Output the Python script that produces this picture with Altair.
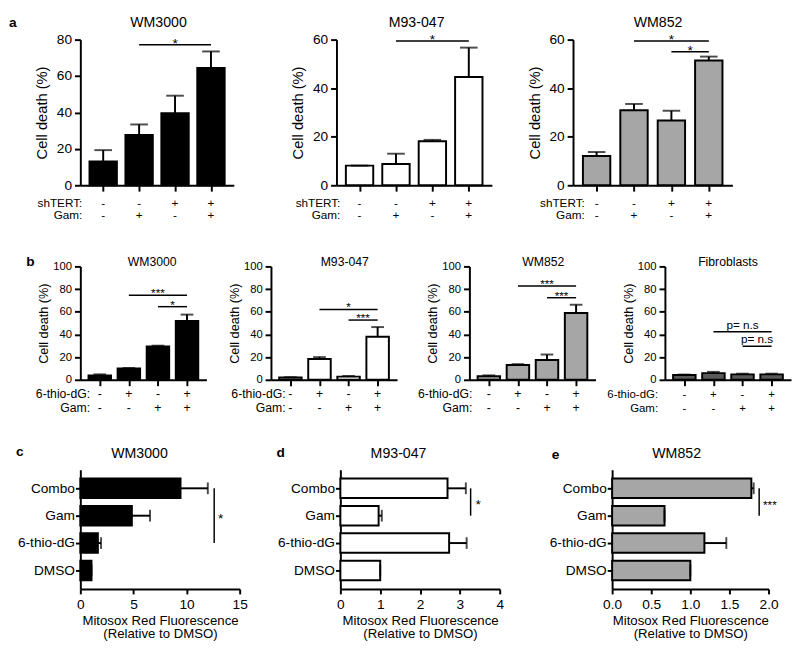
import json
import altair as alt
import pandas as pd

FONT = "Liberation Sans, Arial, Helvetica, sans-serif"

# ---------------- data ----------------
# panel a : shTERT / Gam
A_SHTERT = ["-", "-", "+", "+"]
A_GAM = ["-", "+", "-", "+"]
A_WM3000_MEAN = [13.1, 27.6, 39.6, 64.4]
A_WM3000_SEM = [6.2, 5.8, 9.6, 9.1]
A_M93_MEAN = [8.1, 8.8, 18.1, 44.6]
A_M93_SEM = [0.0, 4.2, 0.6, 12.1]
A_WM852_MEAN = [12.1, 30.9, 26.7, 51.4]
A_WM852_SEM = [1.6, 2.6, 4.0, 1.6]
A_WM3000_SIG = [[2, 4, 77.2, "*"]]
A_M93_SIG = [[2, 4, 59.4, "*"]]
A_WM852_SIG = [[2, 4, 59.4, "*"], [3, 4, 55.0, "*"]]

# panel b : 6-thio-dG / Gam
B_THIO = ["-", "+", "-", "+"]
B_GAM = ["-", "-", "+", "+"]
B_WM3000_MEAN = [3.9, 9.9, 29.3, 51.8]
B_WM3000_SEM = [0.9, 0.5, 0.8, 5.7]
B_M93_MEAN = [2.0, 18.3, 2.8, 38.0]
B_M93_SEM = [0.3, 1.7, 0.6, 8.5]
B_WM852_MEAN = [3.1, 13.0, 17.5, 58.9]
B_WM852_SEM = [0.8, 0.8, 4.8, 7.3]
B_FIB_MEAN = [4.2, 5.9, 4.8, 4.8]
B_FIB_SEM = [0.4, 1.1, 0.6, 0.6]
B_WM3000_SIG = [[2, 4, 74.6, "***"], [3, 4, 64.5, "*"]]
B_M93_SIG = [[2, 4, 62.0, "*"], [3, 4, 52.7, "***"]]
B_WM852_SIG = [[2, 4, 82.8, "***"], [3, 4, 72.4, "***"]]
B_FIB_SIG = [[2, 4, 42.3, "p= n.s"], [3, 4, 29.6, "p= n.s"]]

# panels c, d, e : Mitosox
C_CATS = ["Combo", "Gam", "6-thio-dG", "DMSO"]
C_WM3000_MEAN = [9.43, 4.85, 1.65, 1.05]
C_WM3000_SEM = [2.57, 1.71, 0.30, 0.0]
D_M93_MEAN = [2.69, 0.96, 2.73, 1.0]
D_M93_SEM = [0.46, 0.08, 0.44, 0.0]
E_WM852_MEAN = [1.78, 0.67, 1.18, 1.0]
E_WM852_SEM = [0.03, 0.0, 0.28, 0.0]
C_WM3000_SIG = [["Combo", "6-thio-dG", 12.6, "*"]]
D_M93_SIG = [["Combo", "Gam", 3.27, "*"]]
E_WM852_SIG = [["Combo", "Gam", 1.88, "***"]]

BLACK_FILL = "#000000"
WHITE_FILL = "#ffffff"
GRAY_FILL = "#a6a6a6"
DARK_FILL = "#595959"


def one(**kw):
    return pd.DataFrame({k: [v] for k, v in kw.items()})


def frame_layer(w, h, box):
    """Invisible rectangle that fixes the panel's bounding box (left, right, top, bottom)."""
    L, R, T, B = box
    return alt.Chart(one(z=0)).mark_rect(fill="white", opacity=0).encode(
        x=alt.value(-L), x2=alt.value(w + R), y=alt.value(-T), y2=alt.value(h + B))


def text_layer(txt, x, y, size, bold=False, align="center", baseline="middle"):
    return alt.Chart(one(t=txt)).mark_text(
        font=FONT, fontSize=size, fontWeight="bold" if bold else "normal",
        color="black", align=align, baseline=baseline
    ).encode(x=alt.value(x), y=alt.value(y), text="t:N")


def vpanel(title, mean, sem, fill, sig, row_names, rows, ymax, yticks, w, h, st):
    n = len(mean)
    pos = list(range(1, n + 1))
    df = pd.DataFrame({"pos": pos, "mean": mean,
                       "top": [m + s for m, s in zip(mean, sem)]})
    xs = alt.Scale(domain=[0.5, n + 0.5], nice=False, zero=False)
    xa = alt.Axis(values=pos, labels=False, title=None, tickSize=6, tickWidth=2,
                  domainWidth=2, grid=False)
    ys = alt.Scale(domain=[0, ymax], nice=False)
    ya = alt.Axis(values=yticks, title="Cell death (%)", labelFontSize=st["tick"],
                  titleFontSize=st["ytitle"], tickSize=6, tickWidth=2, domainWidth=2,
                  labelPadding=3, titlePadding=st["tpad"], grid=False)
    X = alt.X("pos:Q", scale=xs, axis=xa)
    err = alt.Chart(df).mark_rule(color="black", strokeWidth=2).encode(
        x=X, y=alt.Y("mean:Q", scale=ys, axis=ya), y2="top:Q")
    bars = alt.Chart(df).mark_bar(orient="vertical", size=st["bar"], fill=fill,
                                  stroke="black", strokeWidth=2).encode(
        x=X, y=alt.Y("mean:Q", scale=ys, axis=ya))
    cap = alt.Chart(df).mark_tick(orient="horizontal", size=st["cap"], thickness=2,
                                  color="black").encode(
        x=X, y=alt.Y("top:Q", scale=ys, axis=ya))
    sdf = pd.DataFrame(sig, columns=["x1", "x2", "y", "label"])
    sdf["xm"] = (sdf["x1"] + sdf["x2"]) / 2
    srule = alt.Chart(sdf).mark_rule(color="black", strokeWidth=1.5).encode(
        x=alt.X("x1:Q", scale=xs, axis=xa), x2="x2:Q",
        y=alt.Y("y:Q", scale=ys, axis=ya))
    stext = alt.Chart(sdf).mark_text(font=FONT, fontSize=st["sig"], color="black",
                                     baseline="alphabetic", dy=st["sigdy"]).encode(
        x=alt.X("xm:Q", scale=xs, axis=xa), y=alt.Y("y:Q", scale=ys, axis=ya),
        text="label:N")
    rdf = pd.DataFrame({"pos": pos, "r1": rows[0], "r2": rows[1]})
    r1 = alt.Chart(rdf).mark_text(font=FONT, fontSize=st["row"], color="black").encode(
        x=X, y=alt.value(h + st["r1y"]), text="r1:N")
    r2 = alt.Chart(rdf).mark_text(font=FONT, fontSize=st["row"], color="black").encode(
        x=X, y=alt.value(h + st["r2y"]), text="r2:N")
    n1 = text_layer(row_names[0], st["rnx"], h + st["r1y"], st["rowname"], align="right")
    n2 = text_layer(row_names[1], st["rnx"], h + st["r2y"], st["rowname"], align="right")
    ttl = text_layer(title, w / 2 + st["tdx"], st["ty"], st["title"], baseline="alphabetic")
    layers = [frame_layer(w, h, st["box"]), err, bars, cap, srule, stext, r1, r2, n1, n2, ttl]
    if "letter" in st:
        lt, lx, ly = st["letter"]
        layers.append(text_layer(lt, lx, ly, 14, bold=True))
    return alt.layer(*layers).properties(width=w, height=h)


def hpanel(title, cats, mean, sem, fill, sig, xmax, xticks, xfmt, w, h, st):
    n = len(cats)
    pos = [n - i for i in range(n)]
    idx = {c: p for c, p in zip(cats, pos)}
    df = pd.DataFrame({"pos": pos, "mean": mean,
                       "top": [m + s for m, s in zip(mean, sem)]})
    ys = alt.Scale(domain=[0.5, n + 0.5], nice=False, zero=False)
    expr = json.dumps([""] + cats[::-1]) + "[datum.value]"
    ya = alt.Axis(values=sorted(pos), labelExpr=expr, title=None,
                  labelFontSize=st["ylab"], tickSize=5, tickWidth=2, domainWidth=2,
                  labelPadding=1, grid=False)
    xs = alt.Scale(domain=[0, xmax], nice=False, zero=True)
    xa = alt.Axis(values=xticks, format=xfmt,
                  title=["Mitosox Red Fluorescence", "(Relative to DMSO)"],
                  labelFontSize=st["xlab"], titleFontSize=st["xtitle"], titleLineHeight=14,
                  tickSize=5, tickWidth=2, domainWidth=2, labelPadding=4, titlePadding=2,
                  labelFlush=False, grid=False)
    Y = alt.Y("pos:Q", scale=ys, axis=ya)
    err = alt.Chart(df).mark_rule(color="black", strokeWidth=2).encode(
        y=Y, x=alt.X("mean:Q", scale=xs, axis=xa), x2="top:Q")
    bars = alt.Chart(df).mark_bar(orient="horizontal", size=st["bar"], fill=fill,
                                  stroke="black", strokeWidth=2).encode(
        y=Y, x=alt.X("mean:Q", scale=xs, axis=xa))
    cap = alt.Chart(df).mark_tick(orient="vertical", size=st["cap"], thickness=2,
                                  color="black").encode(
        y=Y, x=alt.X("top:Q", scale=xs, axis=xa))
    sdf = pd.DataFrame(sig, columns=["c1", "c2", "x", "label"])
    sdf["p1"] = [idx[c] for c in sdf["c1"]]
    sdf["p2"] = [idx[c] for c in sdf["c2"]]
    sdf["pm"] = (sdf["p1"] + sdf["p2"]) / 2
    srule = alt.Chart(sdf).mark_rule(color="black", strokeWidth=1.5).encode(
        x=alt.X("x:Q", scale=xs, axis=xa),
        y=alt.Y("p1:Q", scale=ys, axis=ya), y2="p2:Q")
    stext = alt.Chart(sdf).mark_text(font=FONT, fontSize=st["sig"], color="black",
                                     align="left", baseline="middle", dx=st["sigdx"],
                                     dy=3).encode(
        x=alt.X("x:Q", scale=xs, axis=xa), y=alt.Y("pm:Q", scale=ys, axis=ya),
        text="label:N")
    ttl = text_layer(title, w / 2 + st["tdx"], st["ty"], st["title"], baseline="alphabetic")
    lt, lx, ly = st["letter"]
    layers = [frame_layer(w, h, st["box"]), err, bars, cap, srule, stext, ttl,
              text_layer(lt, lx, ly, 14, bold=True)]
    return alt.layer(*layers).properties(width=w, height=h)


A_ST = dict(tick=14, ytitle=15, tpad=7, cap=18, bar=28, sig=14, sigdy=3, row=12,
            rowname=12, r1y=18, r2y=31, title=14.5, ty=-13)
B_ST = dict(tick=11.5, ytitle=13, tpad=2, cap=13, bar=23, sig=12, sigdy=2, row=12.5,
            rowname=12.5, r1y=15, r2y=29, title=12.5, ty=0)
C_ST = dict(ylab=14, xlab=14, xtitle=13.5, bar=20, cap=12, sig=14, title=14.5, ty=-12.5)

HA, HB, HC = 149, 116, 122
TA, BA, TB, BB, TC, BC = 25, 40, 43, 40, 52, 53

a1 = vpanel("WM3000", A_WM3000_MEAN, A_WM3000_SEM, BLACK_FILL, A_WM3000_SIG,
            ["shTERT:", "Gam:"], [A_SHTERT, A_GAM], 80, [0, 20, 40, 60, 80], 157, HA,
            dict(A_ST, rnx=2, tdx=1.5, letter=("a", -69, -17), box=(74, 2, TA, BA)))
a2 = vpanel("M93-047", A_M93_MEAN, A_M93_SEM, WHITE_FILL, A_M93_SIG,
            ["shTERT:", "Gam:"], [A_SHTERT, A_GAM], 60, [0, 20, 40, 60], 159, HA,
            dict(A_ST, rnx=4, tdx=2.5, box=(103, 2, TA, BA)))
a3 = vpanel("WM852", A_WM852_MEAN, A_WM852_SEM, GRAY_FILL, A_WM852_SIG,
            ["shTERT:", "Gam:"], [A_SHTERT, A_GAM], 60, [0, 20, 40, 60], 163, HA,
            dict(A_ST, rnx=12, tdx=5.5, box=(81, 2, TA, BA)))

B_TICKS = [0, 20, 40, 60, 80, 100]
b1 = vpanel("WM3000", B_WM3000_MEAN, B_WM3000_SEM, BLACK_FILL, B_WM3000_SIG,
            ["6-thio-dG:", "Gam:"], [B_THIO, B_GAM], 100, B_TICKS, 129, HB,
            dict(B_ST, rnx=10, tdx=9, letter=("b", -51, -4), box=(56, 1, TB, BB)))
b2 = vpanel("M93-047", B_M93_MEAN, B_M93_SEM, WHITE_FILL, B_M93_SIG,
            ["6-thio-dG:", "Gam:"], [B_THIO, B_GAM], 100, B_TICKS, 129, HB,
            dict(B_ST, rnx=15, tdx=11, box=(65, 1, TB, BB)))
b3 = vpanel("WM852", B_WM852_MEAN, B_WM852_SEM, GRAY_FILL, B_WM852_SIG,
            ["6-thio-dG:", "Gam:"], [B_THIO, B_GAM], 100, B_TICKS, 129, HB,
            dict(B_ST, rnx=3, tdx=11, box=(73, 1, TB, BB)))
b4 = vpanel("Fibroblasts", B_FIB_MEAN, B_FIB_SEM, DARK_FILL, B_FIB_SIG,
            ["6-thio-dG:", "Gam:"], [B_THIO, B_GAM], 100, B_TICKS, 129, HB,
            dict(B_ST, rnx=-7, tdx=0, rowname=11.7, row=11.7, sigdy=-3,
                 box=(70, 1, TB, BB)))

c1 = hpanel("WM3000", C_CATS, C_WM3000_MEAN, C_WM3000_SEM, BLACK_FILL, C_WM3000_SIG,
            15, [0, 5, 10, 15], "d", 163, HC,
            dict(C_ST, sigdx=4, tdx=-21, letter=("c", -62, -18), box=(68, 9, TC, BC)))
d1 = hpanel("M93-047", C_CATS, D_M93_MEAN, D_M93_SEM, WHITE_FILL, D_M93_SIG,
            4, [0, 1, 2, 3, 4], "d", 163, HC,
            dict(C_ST, sigdx=5, tdx=-22, letter=("d", -61, -17), box=(94, 9, TC, BC)))
e1 = hpanel("WM852", C_CATS, E_WM852_MEAN, E_WM852_SEM, GRAY_FILL, E_WM852_SIG,
            2, [0, 0.5, 1, 1.5, 2], ".1f", 160, HC,
            dict(C_ST, sigdx=4, tdx=-14, sig=12, letter=("e", -58, -15), box=(106, 12, TC, BC)))

row_a = alt.hconcat(a1, a2, a3, spacing=0)
row_b = alt.hconcat(b1, b2, b3, b4, spacing=0)
row_c = alt.hconcat(c1, d1, e1, spacing=0)

chart = alt.vconcat(row_a, row_b, row_c, spacing=0).properties(
    padding={"left": 0, "top": 0, "right": 0, "bottom": 0}
).configure_view(strokeWidth=0).configure_axis(
    labelFont=FONT, titleFont=FONT, labelColor="black", titleColor="black",
    domainColor="black", tickColor="black", titleFontWeight="normal"
)

chart.save("out.html", embed_options={"renderer": "svg", "actions": False})
